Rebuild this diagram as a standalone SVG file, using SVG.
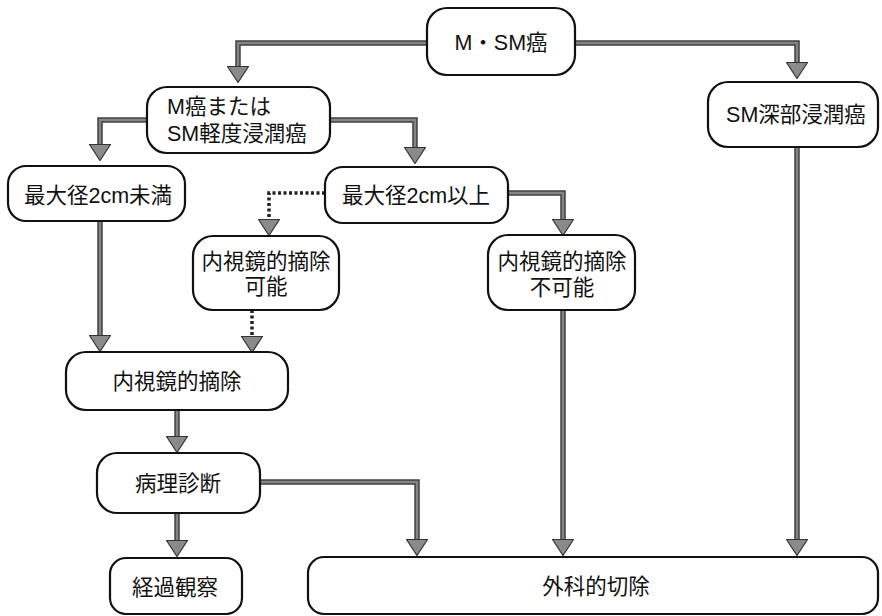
<svg xmlns="http://www.w3.org/2000/svg" width="882" height="616" viewBox="0 0 882 616">
<defs>
<style>
.box{fill:#fff;stroke:#111;stroke-width:2.2}
.t{font-family:"Liberation Sans","Noto Sans CJK JP",sans-serif;font-size:21.5px;fill:#111;text-anchor:middle;dominant-baseline:central}
.tl{text-anchor:start}
.c-out{fill:none;stroke:#404040;stroke-width:5.5;marker-end:url(#ah)}
.c-in{fill:none;stroke:#858585;stroke-width:2.5}
.c-dot{fill:none;stroke:#222;stroke-width:3.5;stroke-dasharray:3 2.5;marker-end:url(#ah)}
</style>
<marker id="ah" markerUnits="userSpaceOnUse" markerWidth="17" markerHeight="22" viewBox="0 0 17 22" refX="0" refY="11" orient="auto">
<path d="M0.5,0.5 L16.5,11 L0.5,21.5 Z" fill="#8a8a8a" stroke="#333" stroke-width="1.2"/>
</marker>
</defs>
<rect width="882" height="616" fill="#fff"/>
<g id="connectors">
<path class="c-out" d="M427,43 H238 V66"/>
<path class="c-in" d="M427,43 H238 V66"/>
<path class="c-out" d="M575,43 H797 V62"/>
<path class="c-in" d="M575,43 H797 V62"/>
<path class="c-out" d="M147,120 H100 V144"/>
<path class="c-in" d="M147,120 H100 V144"/>
<path class="c-out" d="M330,120 H415 V147"/>
<path class="c-in" d="M330,120 H415 V147"/>
<path class="c-out" d="M508,193 H563 V219"/>
<path class="c-in" d="M508,193 H563 V219"/>
<path class="c-dot" d="M325,193 H269 V219"/>
<path class="c-out" d="M100,221 V335"/>
<path class="c-in" d="M100,221 V335"/>
<path class="c-dot" d="M252,310 V336"/>
<path class="c-out" d="M177,410 V436"/>
<path class="c-in" d="M177,410 V436"/>
<path class="c-out" d="M177,513 V540"/>
<path class="c-in" d="M177,513 V540"/>
<path class="c-out" d="M260,482 H417 V539"/>
<path class="c-in" d="M260,482 H417 V539"/>
<path class="c-out" d="M563,310 V539"/>
<path class="c-in" d="M563,310 V539"/>
<path class="c-out" d="M797,147 V539"/>
<path class="c-in" d="M797,147 V539"/>
</g>
<g id="n-msm"><rect class="box" x="427" y="8" width="148" height="67" rx="20"/><text class="t" x="501" y="43">M・SM癌</text></g>
<g id="n-m"><rect class="box" x="147" y="87" width="183" height="66" rx="20"/><text class="t tl" x="167" y="107">M癌または</text><text class="t tl" x="167" y="134">SM軽度浸潤癌</text></g>
<g id="n-smdeep"><rect class="box" x="708" y="82" width="170" height="65" rx="20"/><text class="t" x="796" y="115">SM深部浸潤癌</text></g>
<g id="n-lt2"><rect class="box" x="8" y="166" width="177" height="55" rx="18"/><text class="t" x="98" y="196">最大径2cm未満</text></g>
<g id="n-ge2"><rect class="box" x="325" y="167" width="183" height="56" rx="18"/><text class="t" x="416" y="196">最大径2cm以上</text></g>
<g id="n-possible"><rect class="box" x="193" y="236" width="146" height="74" rx="20"/><text class="t" x="266" y="262">内視鏡的摘除</text><text class="t" x="266" y="287">可能</text></g>
<g id="n-impossible"><rect class="box" x="488" y="235" width="147" height="75" rx="20"/><text class="t" x="562" y="262">内視鏡的摘除</text><text class="t" x="562" y="288">不可能</text></g>
<g id="n-endo"><rect class="box" x="66" y="352" width="222" height="58" rx="20"/><text class="t" x="177" y="382">内視鏡的摘除</text></g>
<g id="n-patho"><rect class="box" x="97" y="453" width="163" height="60" rx="20"/><text class="t" x="178" y="484">病理診断</text></g>
<g id="n-follow"><rect class="box" x="110" y="558" width="132" height="56" rx="16"/><text class="t" x="175" y="588">経過観察</text></g>
<g id="n-surgery"><rect class="box" x="308" y="557" width="570" height="57" rx="16"/><text class="t" x="596" y="587">外科的切除</text></g>
</svg>
